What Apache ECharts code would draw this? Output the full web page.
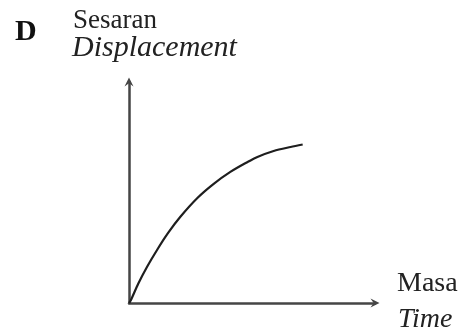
<!DOCTYPE html>
<html>
<head>
<meta charset="utf-8">
<script src="https://cdn.jsdelivr.net/npm/echarts@6/dist/echarts.min.js"></script>
<style>
  html, body { margin: 0; padding: 0; background: #fff; }
  #chart { width: 469px; height: 331px; }
</style>
</head>
<body>
<div id="chart"></div>
<script>
// Displacement against time: rises quickly, then levels off
const timeValues = [0, 0.08, 0.37, 0.73, 1.14, 1.59, 2.08, 2.78, 3.43, 4.12, 4.82, 5.22, 5.88, 6.57, 7.06];
const displacementValues = [0, 0.14, 0.86, 1.63, 2.40, 3.17, 3.89, 4.75, 5.38, 5.93, 6.38, 6.61, 6.88, 7.06, 7.17];

const panelLabel = 'D';
const yTitle = ['Sesaran', 'Displacement'];
const xTitle = ['Masa', 'Time'];

const serif = '"Liberation Serif", "DejaVu Serif", serif';
const axisColor = '#454545';
// notched arrow head used at the end of both axes
const arrowHead = 'path://M0,10 L5,0 L10,10 L5,6.5 Z';

const chart = echarts.init(document.getElementById('chart'), null, { renderer: 'canvas' });

chart.setOption({
  animation: false,
  backgroundColor: '#fff',
  grid: { left: 129, top: 82, width: 246, height: 221 },
  xAxis: {
    type: 'value', min: 0, max: 10,
    axisLine: { show: true, onZero: false, symbol: ['none', arrowHead], symbolSize: [9, 10],
      lineStyle: { color: axisColor, width: 2.5 } },
    axisTick: { show: false }, axisLabel: { show: false }, splitLine: { show: false }
  },
  yAxis: {
    type: 'value', min: 0, max: 10,
    axisLine: { show: true, onZero: false, symbol: ['none', arrowHead], symbolSize: [10, 9],
      lineStyle: { color: axisColor, width: 2.5 } },
    axisTick: { show: false }, axisLabel: { show: false }, splitLine: { show: false }
  },
  series: [{
    type: 'line',
    data: timeValues.map((t, i) => [t, displacementValues[i]]),
    smooth: 0.3,
    showSymbol: false,
    lineStyle: { color: '#1e1e1e', width: 2.2 }
  }],
  graphic: [
    { type: 'text', style: { x: 15, y: 32, text: panelLabel, font: 'bold 30px ' + serif, fill: '#111', verticalAlign: 'middle' } },
    { type: 'text', style: { x: 73, y: 21, text: yTitle[0], font: '27px ' + serif, fill: '#222', verticalAlign: 'middle' } },
    { type: 'text', style: { x: 72, y: 48, text: yTitle[1], font: 'italic 30px ' + serif, fill: '#222', verticalAlign: 'middle' } },
    { type: 'text', style: { x: 397, y: 284, text: xTitle[0], font: '28px ' + serif, fill: '#222', verticalAlign: 'middle' } },
    { type: 'text', style: { x: 398, y: 320, text: xTitle[1], font: 'italic 28px ' + serif, fill: '#222', verticalAlign: 'middle' } }
  ]
});
</script>
</body>
</html>
